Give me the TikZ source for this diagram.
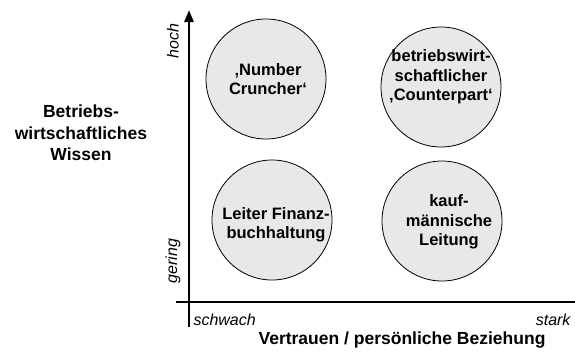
\documentclass[tikz,border=0pt]{standalone}
\usepackage{fontspec}
\setmainfont{Liberation Sans}
\usetikzlibrary{arrows.meta}
\definecolor{cfill}{RGB}{232,232,232}
\begin{document}
\begin{tikzpicture}[x=1pt,y=-1pt,
  bubble/.style={circle,draw=black,line width=0.8pt,fill=cfill,minimum size=120pt,inner sep=0pt},
  btext/.style={font=\fontsize{16.5}{19.5}\selectfont\bfseries,align=center},
  axlabel/.style={font=\fontsize{17.5}{21.5}\selectfont\bfseries,align=center},
  ticklabel/.style={font=\fontsize{16}{18}\selectfont\itshape},
  axis/.style={line width=2.6pt}]
\useasboundingbox (0,0) rectangle (575,354);
\coordinate (vb) at (189,327);
\coordinate (vt) at (189,10);
\coordinate (hl) at (176,302);
\coordinate (hr) at (575,302);
\draw[axis,-{Triangle[length=12pt,width=9pt]}] (vb) -- (vt);
\draw[axis] (hl) -- (hr);
\node[bubble] (c1) at (266,79) {};
\node[bubble] (c2) at (441,87) {};
\node[bubble] (c3) at (272,220) {};
\node[bubble] (c4) at (442,221) {};
\node[btext] (t1) at (268,79) {‚Number\\Cruncher‘};
\node[btext] (t2) at (441,77) {betriebswirt-\\schaftlicher\\‚Counterpart‘};
\node[btext] (t3) at (276,225) {Leiter Finanz-\\buchhaltung};
\node[btext] (t4) at (449,222) {kauf-\\männische\\Leitung};
\node[axlabel] (yl) at (81,133) {Betriebs-\\wirtschaftliches\\Wissen};
\node[axlabel] (xl) at (402,340) {Vertrauen / persönliche Beziehung};
\node[ticklabel,anchor=west] (sw) at (190,320) {schwach};
\node[ticklabel,anchor=east] (st) at (574,320) {stark};
\node[ticklabel,rotate=90] (ho) at (173,41) {hoch};
\node[ticklabel,rotate=90] (ge) at (173,261) {gering};
\end{tikzpicture}
\end{document}
